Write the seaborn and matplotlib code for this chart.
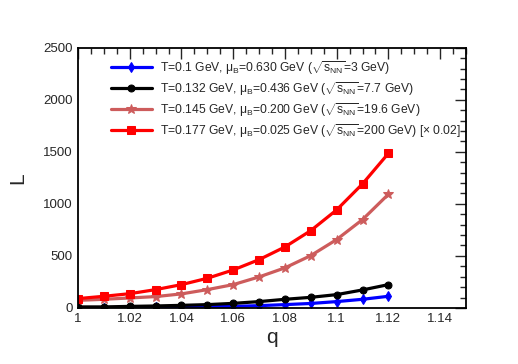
import numpy as np
import matplotlib
matplotlib.use('Agg')
import matplotlib.pyplot as plt
import pandas as pd
import seaborn as sns
from matplotlib.ticker import MultipleLocator

# Data
q = [1.00, 1.01, 1.02, 1.03, 1.04, 1.05, 1.06, 1.07, 1.08, 1.09, 1.10, 1.11, 1.12]
L_3GeV = [2, 3, 4, 6, 8, 11, 15, 22, 32, 43, 61, 83, 112]
L_7p7GeV = [10, 10, 15, 19, 25, 32, 44, 61, 83, 102, 128, 173, 224]
L_19p6GeV = [73, 83, 96, 109, 135, 176, 224, 298, 385, 503, 657, 849, 1092]
L_200GeV = [90, 112, 137, 176, 224, 285, 365, 464, 586, 743, 942, 1192, 1485]

labels = [
    r"T=0.1 GeV, $\mu_B$=0.630 GeV ($\sqrt{s_{NN}}$=3 GeV)",
    r"T=0.132 GeV, $\mu_B$=0.436 GeV ($\sqrt{s_{NN}}$=7.7 GeV)",
    r"T=0.145 GeV, $\mu_B$=0.200 GeV ($\sqrt{s_{NN}}$=19.6 GeV)",
    r"T=0.177 GeV, $\mu_B$=0.025 GeV ($\sqrt{s_{NN}}$=200 GeV) [$\times$ 0.02]",
]

sns.set_style("white")
plt.rcParams['font.family'] = ['Liberation Sans', 'DejaVu Sans']
plt.rcParams['mathtext.fontset'] = 'custom'
plt.rcParams['mathtext.rm'] = 'Liberation Sans'
plt.rcParams['mathtext.it'] = 'Liberation Sans'
plt.rcParams['mathtext.bf'] = 'Liberation Sans:bold'

fig = plt.figure(figsize=(5.18, 3.64), dpi=100)
ax = fig.add_axes([0.1506, 0.154, 0.749, 0.715])

series = [L_3GeV, L_7p7GeV, L_19p6GeV, L_200GeV]
colors = ['#0000ff', '#000000', '#cd5c5c', '#ff0000']
markers = ['d', 'o', '*', 's']
msizes = [5, 5, 7, 6]

for vals, lab, c, m, ms in zip(series, labels, colors, markers, msizes):
    sns.lineplot(x=q, y=vals, ax=ax, color=c, marker=m, markersize=ms,
                 markeredgecolor=c, linewidth=2.3, label=lab)

ax.set_xlim(1, 1.15)
ax.set_ylim(0, 2500)
ax.xaxis.set_major_locator(MultipleLocator(0.02))
ax.xaxis.set_minor_locator(MultipleLocator(0.005))
ax.yaxis.set_major_locator(MultipleLocator(500))
ax.yaxis.set_minor_locator(MultipleLocator(100))
ax.set_xticks([1, 1.02, 1.04, 1.06, 1.08, 1.1, 1.12, 1.14])
ax.set_xticklabels(['1', '1.02', '1.04', '1.06', '1.08', '1.1', '1.12', '1.14'])
ax.tick_params(which='both', direction='in', top=True, right=True, labelsize=9.5, width=1)
ax.tick_params(which='major', length=8, pad=4)
ax.tick_params(which='minor', length=4)
for s in ax.spines.values():
    s.set_linewidth(1.3)
    s.set_color('black')

ax.set_xlabel('q', fontsize=15, labelpad=2)
ax.set_ylabel('L', fontsize=15, labelpad=11)

ax.legend(loc='upper left', bbox_to_anchor=(0.072, 0.975), frameon=False, fontsize=8.7,
          handlelength=3.4, handletextpad=0.7, labelspacing=0.28, borderaxespad=0)

fig.savefig('out.png', dpi=100)
